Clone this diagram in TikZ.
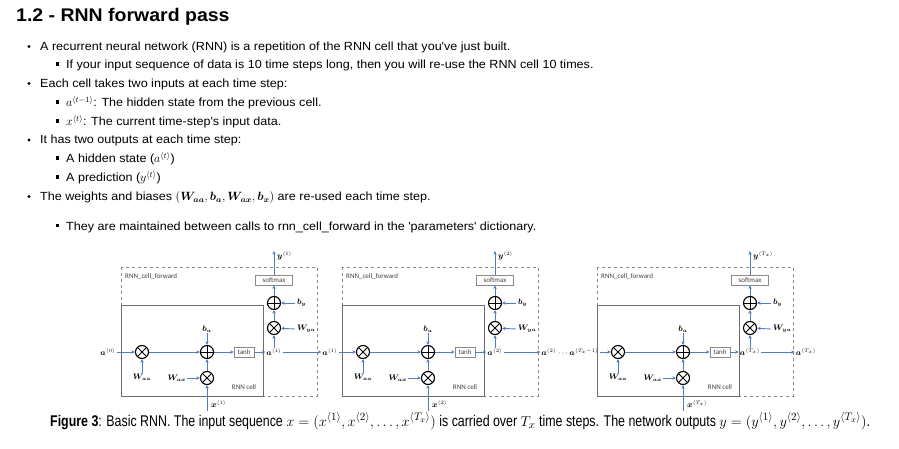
\documentclass[tikz,border=0pt]{standalone}
\usepackage{amsmath,amssymb}
\usepackage{fontspec}
\setmainfont{Liberation Sans}[FakeStretch=1.065]
\newfontfamily\capfont{Liberation Sans}[FakeStretch=0.8]
\newfontfamily\diagfont{Carlito}
\usetikzlibrary{positioning,arrows.meta,calc}
\definecolor{rnnblue}{HTML}{4F7FC0}
\definecolor{rnngray}{HTML}{8A8A8A}
\definecolor{rnnbox}{HTML}{6E6E6E}
\definecolor{rnndark}{HTML}{404040}

\begin{document}
\begin{tikzpicture}[x=1pt,y=-1pt,
  body/.style={anchor=base west,inner sep=0pt,font=\fontsize{11.8}{14}\selectfont},
  sml/.style={font=\diagfont\fontsize{7}{8}\selectfont,text=rnndark,inner sep=1pt},
  lab/.style={font=\fontsize{7.8}{8}\selectfont,inner sep=0.8pt},
  opbox/.style={rectangle,draw=rnngray,line width=0.6pt,font=\diagfont\fontsize{7}{8}\selectfont,text=rnndark,inner sep=0pt,minimum height=10pt},
  mulnode/.style={circle,draw,line width=1.1pt,minimum size=13pt,inner sep=0pt,
    path picture={\draw[line width=1pt] (path picture bounding box.north west)--(path picture bounding box.south east) (path picture bounding box.south west)--(path picture bounding box.north east);}},
  sumnode/.style={circle,draw,line width=1.1pt,minimum size=13pt,inner sep=0pt,
    path picture={\draw[line width=1pt] (path picture bounding box.north)--(path picture bounding box.south) (path picture bounding box.west)--(path picture bounding box.east);}},
  ar/.style={-{Stealth[length=3.6pt,width=3.4pt]},draw=rnnblue,line width=0.9pt}]
\useasboundingbox (0,0) rectangle (899,449);
% ---- heading and bullets ----
\node[anchor=base west,inner sep=0pt,font=\bfseries\fontsize{18.3}{22}\selectfont] (title) at (16,22) {1.2 - RNN forward pass};
\foreach \y/\txt [count=\k] in {50.5/{A recurrent neural network (RNN) is a repetition of the RNN cell that you\textquotesingle ve just built.},87.5/{Each cell takes two inputs at each time step:},144/{It has two outputs at each time step:},200.5/{The weights and biases $(\boldsymbol{W_{aa}}, \boldsymbol{b_a}, \boldsymbol{W_{ax}}, \boldsymbol{b_x})$ are re-used each time step.}}{
  \fill (29,\y-4) circle (1.6pt);
  \node[body] (main\k) at (40,\y) {\txt};}
\foreach \y/\txt [count=\k] in {69/{If your input sequence of data is 10 time steps long, then you will re-use the RNN cell 10 times.},106.5/{$a^{\langle t-1\rangle}$: The hidden state from the previous cell.},125.5/{$x^{\langle t\rangle}$: The current time-step\textquotesingle s input data.},163/{A hidden state ($a^{\langle t\rangle}$)},182/{A prediction ($y^{\langle t\rangle}$)},230/{They are maintained between calls to rnn\_cell\_forward in the \textquotesingle parameters\textquotesingle{} dictionary.}}{
  \fill (55.5,\y-6.5) rectangle +(3.6,3.6);
  \node[body] (sub\k) at (66,\y) {\txt};}
% ---- three RNN cells ----
\foreach \i/\cx/\stp in {1/121/1,2/342/2,3/597/{T_x}}{
  \draw[rnngray,dashed,line width=0.8pt] (\cx,267) rectangle (\cx+196,396);
  \draw[rnnbox,line width=1pt] (\cx,305) rectangle (\cx+142,396);
  \node[sml,anchor=west] (fw\i) at (\cx+3,277) {RNN\_cell\_forward};
  \node[sml] (rc\i) at (\cx+123,387) {RNN cell};
  \node[mulnode] (maa\i) at (\cx+21,352) {};
  \node[sumnode] (sa\i) at (\cx+86,352) {};
  \node[mulnode] (max\i) at (\cx+86,378) {};
  \node[opbox,minimum width=20pt] (th\i) at (\cx+123,352) {tanh};
  \node[lab] (a\i) at (\cx+153,352) {$\boldsymbol{a}^{\langle\stp\rangle}$};
  \node[mulnode] (mya\i) at (\cx+153,328) {};
  \node[sumnode] (sy\i) at (\cx+153,303) {};
  \node[opbox,minimum width=37pt] (sm\i) at (\cx+153,280) {softmax};
  \coordinate (yt\i) at (\cx+153,251);
  \node[lab,anchor=west] (y\i) at (\cx+155,256) {$\boldsymbol{y}^{\langle\stp\rangle}$};
  \node[lab] (waa\i) at (\cx+21,377) {$\boldsymbol{W_{aa}}$};
  \node[lab] (ba\i) at (\cx+86,329) {$\boldsymbol{b_a}$};
  \node[lab,anchor=east] (wax\i) at (\cx+66,378) {$\boldsymbol{W_{ax}}$};
  \coordinate (xs\i) at (\cx+86,411);
  \node[lab,anchor=west] (x\i) at (\cx+89,404) {$\boldsymbol{x}^{\langle\stp\rangle}$};
  \node[lab,anchor=west] (wya\i) at (\cx+175,329) {$\boldsymbol{W_{ya}}$};
  \node[lab,anchor=west] (by\i) at (\cx+175,303) {$\boldsymbol{b_y}$};
  \draw[ar] (maa\i) -- (sa\i);
  \draw[ar] (sa\i) -- (th\i);
  \draw[ar] (th\i) -- (a\i);
  \draw[ar] (waa\i) -- (maa\i);
  \draw[ar] (ba\i) -- (sa\i);
  \draw[ar] (wax\i) -- (max\i);
  \draw[ar] (xs\i) -- (max\i);
  \draw[ar] (max\i) -- (sa\i);
  \draw[ar] (a\i) -- (mya\i);
  \draw[ar] (mya\i) -- (sy\i);
  \draw[ar] (sy\i) -- (sm\i);
  \draw[ar] (sm\i) -- (yt\i);
  \draw[ar] ([xshift=-1pt]wya\i.west) -- (mya\i);
  \draw[ar] ([xshift=-1pt]by\i.west) -- (sy\i);
}
% ---- hidden state passed along ----
\node[lab] (a0) at (108,352) {$\boldsymbol{a}^{\langle 0\rangle}$};
\node[lab] (a1n) at (330,352) {$\boldsymbol{a}^{\langle 1\rangle}$};
\node[lab] (a2n) at (570,352) {$\boldsymbol{a}^{\langle 2\rangle}\cdots\boldsymbol{a}^{\langle T_x-1\rangle}$};
\node[lab] (a3n) at (806,352) {$\boldsymbol{a}^{\langle T_x\rangle}$};
\draw[ar] (a0) -- (maa1);
\draw[ar] (a1) -- (a1n); \draw[ar] (a1n) -- (maa2);
\draw[ar] (a2) -- (a2n); \draw[ar] (a2n) -- (maa3);
\draw[ar] (a3) -- (a3n);
% ---- caption ----
\node[anchor=base west,inner sep=0pt,font=\capfont\fontsize{15.5}{17}\selectfont] (cap) at (50,426) {\textbf{Figure 3}: Basic RNN. The input sequence $x=(x^{\langle 1\rangle},x^{\langle 2\rangle},\ldots,x^{\langle T_x\rangle})$ is carried over $T_x$ time steps. The network outputs $y=(y^{\langle 1\rangle},y^{\langle 2\rangle},\ldots,y^{\langle T_x\rangle})$.};
\end{tikzpicture}
\end{document}
